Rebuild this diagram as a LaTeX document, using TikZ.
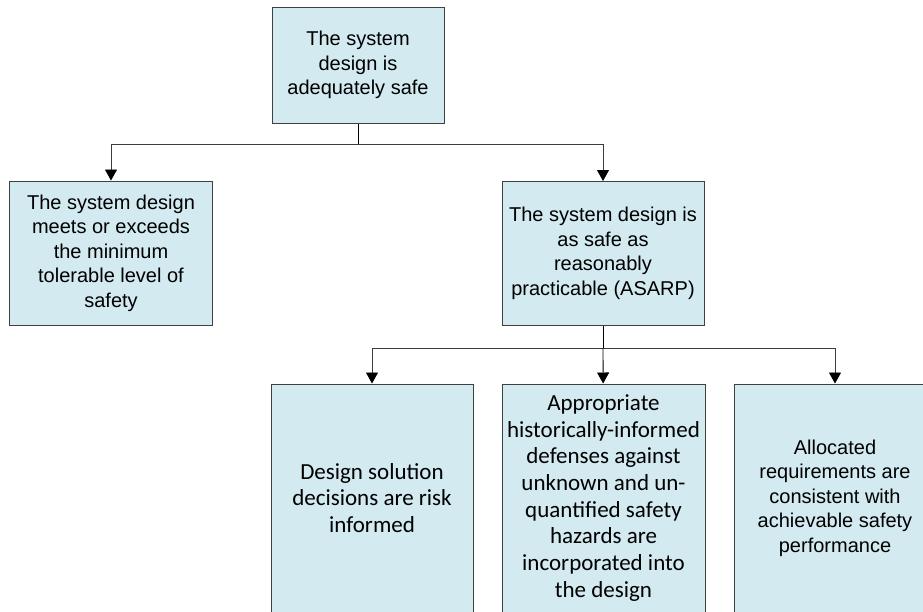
\documentclass[tikz,border=0pt]{standalone}
\usepackage{fontspec}
\setmainfont{Liberation Sans}
\newfontfamily\calibrifont{Carlito}
\usepackage{tikz}
\usetikzlibrary{arrows.meta, positioning}
\definecolor{boxfill}{RGB}{210,234,240}
\definecolor{boxline}{RGB}{64,64,64}
\definecolor{linkgray}{RGB}{60,60,60}

\begin{document}
\begin{tikzpicture}[x=1pt, y=-1pt,
  goalbox/.style={draw=boxline, fill=boxfill, line width=1pt, align=center, inner sep=0pt,
    font=\fontsize{20}{24.5}\selectfont},
  calbox/.style={goalbox, font=\calibrifont\fontsize{23}{26.7}\selectfont},
  link/.style={draw=linkgray, line width=0.9pt, -{Triangle[width=12pt, length=11pt, black]}}]
\clip (0,0) rectangle (923,611);
\fill[white] (0,0) rectangle (923,611);

% goal and first level
\node[goalbox, minimum width=172pt, minimum height=116pt] (goal) at (358,65)
  {The system\\design is\\adequately safe};
\node[goalbox, minimum width=203pt, minimum height=144pt] (tolerable) at (111,253)
  {The system design\\meets or exceeds\\the minimum\\tolerable level of\\safety};
\node[goalbox, minimum width=202pt, minimum height=144pt] (asarp) at (603,253.5)
  {The system design is\\as safe as\\reasonably\\practicable (ASARP)};

% second level
\node[calbox, minimum width=202pt, minimum height=228pt] (risk) at (372,498)
  {Design solution\\decisions are risk\\informed};
\node[calbox, minimum width=203pt, minimum height=228pt] (defenses) at (603.5,498)
  {Appropriate\\historically-informed\\defenses against\\unknown and un-\\quantified safety\\hazards are\\incorporated into\\the design};
\node[goalbox, minimum width=202pt, minimum height=228pt] (allocated) at (835,498)
  {Allocated\\requirements are\\consistent with\\achievable safety\\performance};

% connectors
\coordinate (split1) at (358,144);
\coordinate (split2) at (603,348);
\draw[black, line width=0.9pt] (goal) -- (split1);
\draw[link] (split1) -| (tolerable);
\draw[link] (split1) -| (asarp);
\draw[black, line width=0.9pt] (asarp) -- (split2);
\draw[link] (split2) -| (risk);
\draw[link, draw=black] (split2) -- (defenses);
\draw[link] (split2) -| (allocated);
\end{tikzpicture}
\end{document}
